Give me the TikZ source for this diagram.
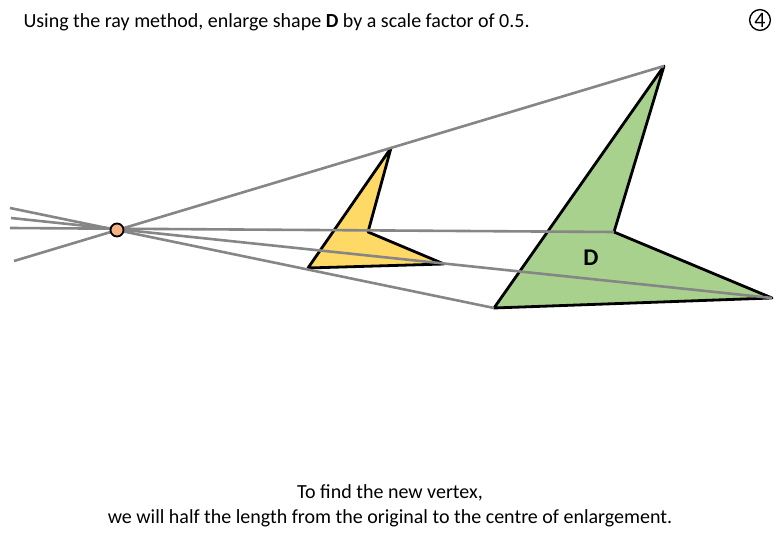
\documentclass[tikz,border=0pt]{standalone}
\usepackage{fontspec}
\setmainfont{Carlito}
\begin{document}
\begin{tikzpicture}[x=1pt,y=-1pt,
  ray/.style={draw=gray!95,line width=2.6pt},
  shp/.style={draw=black,line width=2.8pt,line join=round},
  txt/.style={font=\fontsize{20}{25}\selectfont,align=center}]
\useasboundingbox (0,0) rectangle (780,540);
\coordinate (O) at (117,230);
\coordinate (A) at (664,66);
\coordinate (B) at (614,232);
\coordinate (C) at (772,298);
\coordinate (E) at (494,308);
\coordinate (a) at (391,148);
\coordinate (b) at (368,232);
\coordinate (c) at (444,264);
\coordinate (e) at (308,268);
\coordinate (A0) at (14,261);
\coordinate (B0) at (10,228);
\coordinate (C0) at (11,218);
\coordinate (E0) at (10,208);
\filldraw[shp,fill={rgb,255:red,169;green,209;blue,142}] (A)--(B)--(C)--(E)--cycle;
\filldraw[shp,fill={rgb,255:red,255;green,217;blue,102}] (a)--(b)--(c)--(e)--cycle;
\draw[ray] (A0)--(A);
\draw[ray] (B0)--(B);
\draw[ray] (C0)--(C);
\draw[ray] (E0)--(E);
\filldraw[draw=black,line width=1.8pt,fill={rgb,255:red,244;green,177;blue,131}] (O) circle (6.5);
\node[font=\fontsize{24}{28}\selectfont\bfseries] (lD) at (591,258) {D};
\node[txt,anchor=west] (t1) at (20,22) {Using the ray method, enlarge shape \textbf{D} by a scale factor of 0.5.};
\node[draw,circle,inner sep=1pt,minimum size=20pt,line width=1.4pt,font=\fontsize{22}{26}\selectfont] (n4) at (760,20) {4};
\node[txt] (t2) at (390,506) {To find the new vertex,\\we will half the length from the original to the centre of enlargement.};
\end{tikzpicture}
\end{document}
